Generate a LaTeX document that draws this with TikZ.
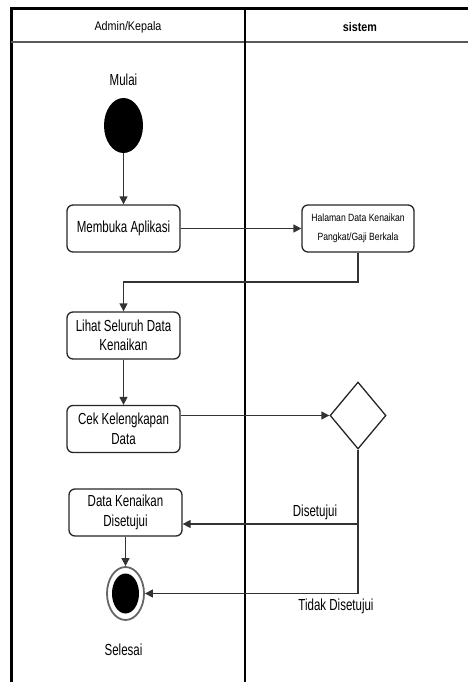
\documentclass[tikz,border=0pt]{standalone}
\usepackage{fontspec}
\setmainfont{Liberation Sans}[FakeStretch=0.86]
\newfontfamily\narrowfont{Liberation Sans}[FakeStretch=0.72]
\newfontfamily\halfont{Liberation Sans}[FakeStretch=0.82]
\usetikzlibrary{shapes.geometric,arrows.meta}
\tikzset{
  act/.style={draw=black!85, line width=1.3pt, rounded corners=6pt, fill=white, minimum width=113pt, minimum height=47pt, inner sep=1pt, align=center, font=\narrowfont\fontsize{16}{19.5}\selectfont},
  conn/.style={line width=1.3pt, draw=black!80},
  arr/.style={conn, -{Triangle[length=8pt,width=8pt]}},
  lbl/.style={font=\narrowfont\fontsize{16}{19}\selectfont, inner sep=0pt},
}
\begin{document}
\begin{tikzpicture}[x=1pt,y=-1pt]
\useasboundingbox (0,0) rectangle (468,682);
% swimlane frame
\draw[line width=3pt] (468,9) -- (11,9) -- (11,682);
\draw[line width=2pt, black!65] (11,42) -- (468,42);
\draw[line width=1.3pt] (245,9) -- (245,682);
\node[font=\fontsize{12.5}{15}\selectfont] (h1) at (128,27) {Admin/Kepala};
\node[font=\bfseries\fontsize{12.5}{15}\selectfont] (h2) at (360,27) {sistem};
% nodes
\node[lbl] (mulai) at (123.5,80) {Mulai};
\node[ellipse, fill=black, minimum width=39pt, minimum height=55pt, inner sep=0pt] (start) at (123.5,125.5) {};
\node[act] (buka) at (123.5,228.5) {Membuka Aplikasi};
\node[act, minimum width=112pt, font=\halfont\fontsize{10.5}{19}\selectfont] (hal) at (358,228.5) {Halaman Data Kenaikan\\Pangkat/Gaji Berkala};
\node[act] (lihat) at (123.5,335.5) {Lihat Seluruh Data\\Kenaikan};
\node[act] (cek) at (123.5,429) {Cek Kelengkapan\\Data};
\node[diamond, draw=black!85, line width=1.3pt, minimum width=56pt, minimum height=67pt, inner sep=0pt] (dec) at (358,415.5) {};
\node[act] (data) at (125.5,512.5) {Data Kenaikan\\Disetujui};
\node[ellipse, draw=black!60, line width=1.8pt, fill=white, minimum width=37pt, minimum height=53pt, inner sep=0pt] (end) at (125.5,593.5) {};
\node[ellipse, fill=black, minimum width=27pt, minimum height=40pt, inner sep=0pt] (endin) at (125.5,593.5) {};
\node[lbl] (selesai) at (123.5,650) {Selesai};
\node[lbl] (ya) at (315,512) {Disetujui};
\node[lbl] (tidak) at (336,606) {Tidak Disetujui};
% connectors
\coordinate (b1) at (123.5,282);
\coordinate (t1) at (358,524);
\coordinate (t2) at (358,593.5);
\draw[arr] (start) -- (buka);
\draw[arr] (buka) -- (hal);
\draw[arr] (hal.south) |- (b1) -- (lihat.north);
\draw[arr] (lihat) -- (cek);
\draw[arr] (cek.east |- dec.west) -- (dec.west);
\draw[conn] (dec.south) -- (t2);
\draw[arr] (t1) -- (data.east |- t1);
\draw[arr] (t2) -- (end.east);
\draw[arr] (data.south) -- (end.north);
\end{tikzpicture}
\end{document}
